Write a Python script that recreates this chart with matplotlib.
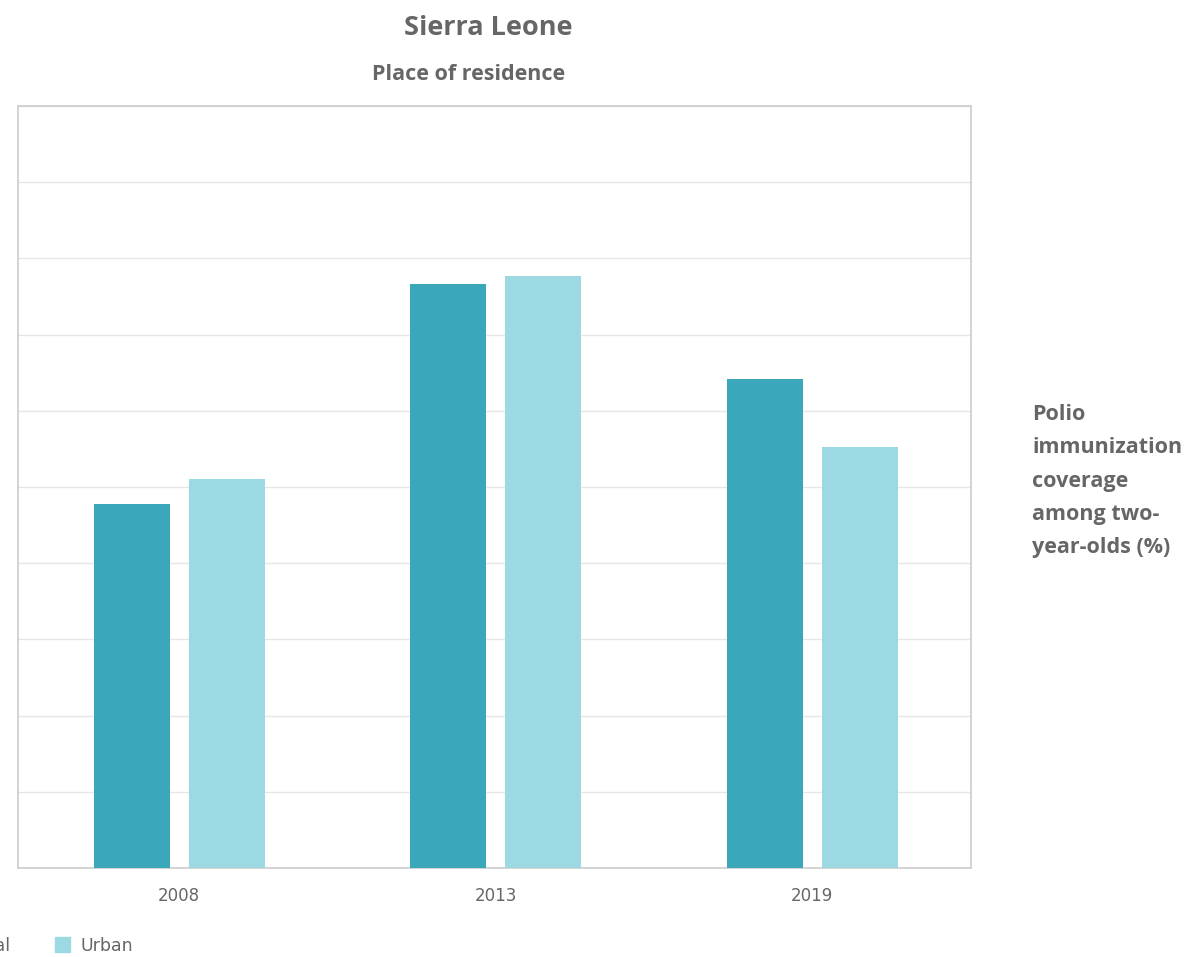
import numpy as np
import matplotlib.pyplot as plt
from matplotlib.patches import Rectangle

# Polio coverage among two-year-olds by place of residence
years = ['2008', '2013', '2019']
rural = [47.8, 76.6, 64.2]
urban = [51.0, 77.7, 55.2]

RURAL_COLOR = '#3aa7bb'
URBAN_COLOR = '#9dd9e3'
TEXT_COLOR = '#666666'

fig = plt.figure(figsize=(11.84, 9.57), dpi=100)
ax = fig.add_axes([18 / 1184, 89 / 957, 953 / 1184, 762 / 957])

x = np.arange(len(years))
width = 0.24
ax.bar(x - 0.15, rural, width, color=RURAL_COLOR, zorder=3)
ax.bar(x + 0.15, urban, width, color=URBAN_COLOR, zorder=3)

ax.set_xlim(-0.509, 2.502)
ax.set_ylim(0, 100)
ax.set_yticks(np.arange(0, 101, 10))
ax.set_yticklabels([])
ax.tick_params(axis='y', length=0)
ax.set_xticks(x)
ax.set_xticklabels(years, fontsize=12, color=TEXT_COLOR, family='DejaVu Sans')
ax.tick_params(axis='x', length=0, pad=14)
ax.grid(axis='y', color='#e6e6e6', linewidth=1, zorder=0)
for spine in ax.spines.values():
    spine.set_color('#cccccc')
    spine.set_linewidth(1.2)

fig.text(488 / 1184, 1 - 28 / 957, 'Sierra Leone', ha='center', va='center',
         fontsize=19.5, fontweight='bold', color=TEXT_COLOR, family='Open Sans')
fig.text(469 / 1184, 1 - 74 / 957, 'Place of residence', ha='center', va='center',
         fontsize=15.5, fontweight='bold', color=TEXT_COLOR, family='Open Sans')

fig.text(1032 / 1184, 1 - 481 / 957,
         'Polio\nimmunization\ncoverage\namong two-\nyear-olds (%)',
         ha='left', va='center', fontsize=15.5, fontweight='bold', color=TEXT_COLOR,
         family='Open Sans', linespacing=1.78)

# legend along the bottom edge
fig.text(10 / 1184, 1 - 946 / 957, 'Rural', ha='right', va='center',
         fontsize=12.5, color=TEXT_COLOR, family='DejaVu Sans')
fig.patches.append(Rectangle((55 / 1184, 1 - 952 / 957), 15 / 1184, 15 / 957,
                             transform=fig.transFigure, color=URBAN_COLOR))
fig.text(80 / 1184, 1 - 946 / 957, 'Urban', ha='left', va='center',
         fontsize=12.5, color=TEXT_COLOR, family='DejaVu Sans')

fig.savefig('out.png', dpi=100)
